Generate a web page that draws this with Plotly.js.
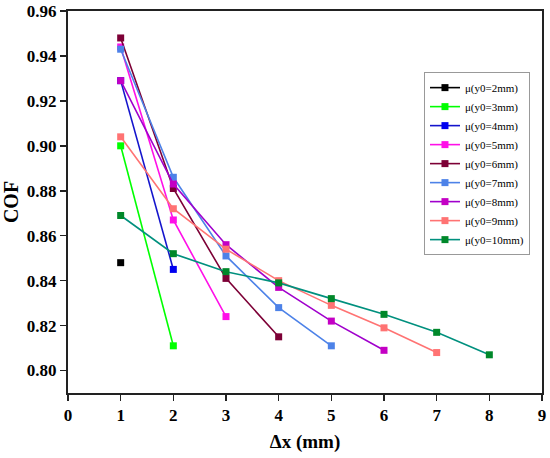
<!DOCTYPE html>
<html>
<head>
<meta charset="utf-8">
<script src="https://cdn.plot.ly/plotly-3.0.1.min.js"></script>
<style>html,body{margin:0;padding:0;background:#fff;}#chart{width:550px;height:458px;}</style>
</head>
<body>
<div id="chart"></div>
<script>
// Data
const names = ['μ(y0=2mm)','μ(y0=3mm)','μ(y0=4mm)','μ(y0=5mm)','μ(y0=6mm)','μ(y0=7mm)','μ(y0=8mm)','μ(y0=9mm)','μ(y0=10mm)'];
const x2 = [1];
const y2 = [0.848];
const x3 = [1, 2];
const y3 = [0.900, 0.811];
const x4 = [1, 2];
const y4 = [0.929, 0.845];
const x5 = [1, 2, 3];
const y5 = [0.944, 0.867, 0.824];
const x6 = [1, 2, 3, 4];
const y6 = [0.948, 0.881, 0.841, 0.815];
const x7 = [1, 2, 3, 4, 5];
const y7 = [0.943, 0.886, 0.851, 0.828, 0.811];
const x8 = [1, 2, 3, 4, 5, 6];
const y8 = [0.929, 0.883, 0.856, 0.837, 0.822, 0.809];
const x9 = [1, 2, 3, 4, 5, 6, 7];
const y9 = [0.904, 0.872, 0.854, 0.840, 0.829, 0.819, 0.808];
const x10 = [1, 2, 3, 4, 5, 6, 7, 8];
const y10 = [0.869, 0.852, 0.844, 0.839, 0.832, 0.825, 0.817, 0.807];
const yTicks = [0.80, 0.82, 0.84, 0.86, 0.88, 0.90, 0.92, 0.94, 0.96];
const xTicks = [0, 1, 2, 3, 4, 5, 6, 7, 8, 9];

const xs = [x2, x3, x4, x5, x6, x7, x8, x9, x10];
const ys = [y2, y3, y4, y5, y6, y7, y8, y9, y10];
const lineColors = ['#000000', '#00FF00', '#1414CC', '#FF10E8', '#7D0036', '#4D82E8', '#A000CC', '#FF7373', '#00907E'];
const markerColors = ['#000000', '#00FF00', '#0000F0', '#FF10E8', '#7D0036', '#4D82E8', '#C400C4', '#FF7373', '#00882A'];

const traces = names.map((n, i) => ({
  type: 'scatter',
  mode: 'lines+markers',
  name: n,
  x: xs[i],
  y: ys[i],
  line: {color: lineColors[i], width: 1.6},
  marker: {symbol: 'square', size: 7, color: markerColors[i]}
}));

const serif = 'Liberation Serif';
const layout = {
  width: 550,
  height: 458,
  margin: {l: 68, r: 8, t: 11, b: 65},
  paper_bgcolor: '#fff',
  plot_bgcolor: '#fff',
  showlegend: true,
  xaxis: {
    range: [0, 9],
    tickmode: 'array',
    tickvals: xTicks,
    ticktext: xTicks.map(v => '<b>' + v + '</b>'),
    ticks: 'outside',
    ticklen: 6,
    tickwidth: 1.5,
    tickcolor: '#222',
    showline: true,
    linecolor: '#222',
    linewidth: 2,
    mirror: true,
    showgrid: false,
    zeroline: false,
    tickfont: {family: serif, size: 17, color: '#000'},
    title: {text: '<b>Δx (mm)</b>', font: {family: serif, size: 19, color: '#000'}, standoff: 10}
  },
  xaxis2: {
    overlaying: 'x',
    anchor: 'y',
    side: 'bottom',
    range: [0, 9],
    tickmode: 'linear',
    tick0: 0.5,
    dtick: 1,
    ticks: 'outside',
    ticklen: 3,
    tickwidth: 1.5,
    tickcolor: '#222',
    showticklabels: false,
    showgrid: false,
    zeroline: false,
    showline: false
  },
  yaxis: {
    range: [0.79, 0.96],
    tickmode: 'array',
    tickvals: yTicks,
    ticktext: yTicks.map(v => '<b>' + v.toFixed(2) + '</b>'),
    ticks: 'outside',
    ticklen: 6,
    tickwidth: 1.5,
    tickcolor: '#222',
    showline: true,
    linecolor: '#222',
    linewidth: 2,
    mirror: true,
    showgrid: false,
    zeroline: false,
    tickfont: {family: serif, size: 17, color: '#000'},
    title: {text: '<b>COF</b>', font: {family: serif, size: 20, color: '#000'}, standoff: 6}
  },
  yaxis2: {
    overlaying: 'y',
    anchor: 'x',
    side: 'left',
    range: [0.79, 0.96],
    tickmode: 'linear',
    tick0: 0.81,
    dtick: 0.02,
    ticks: 'outside',
    ticklen: 3,
    tickwidth: 1.5,
    tickcolor: '#222',
    showticklabels: false,
    showgrid: false,
    zeroline: false,
    showline: false
  },
  legend: {
    x: 0.751,
    y: 0.84,
    xanchor: 'left',
    yanchor: 'top',
    bgcolor: '#fff',
    bordercolor: '#999',
    borderwidth: 1,
    font: {family: serif, size: 11, color: '#000'},
    itemwidth: 30
  }
};

Plotly.newPlot('chart', traces, layout, {displayModeBar: false, staticPlot: true});
</script>
</body>
</html>
